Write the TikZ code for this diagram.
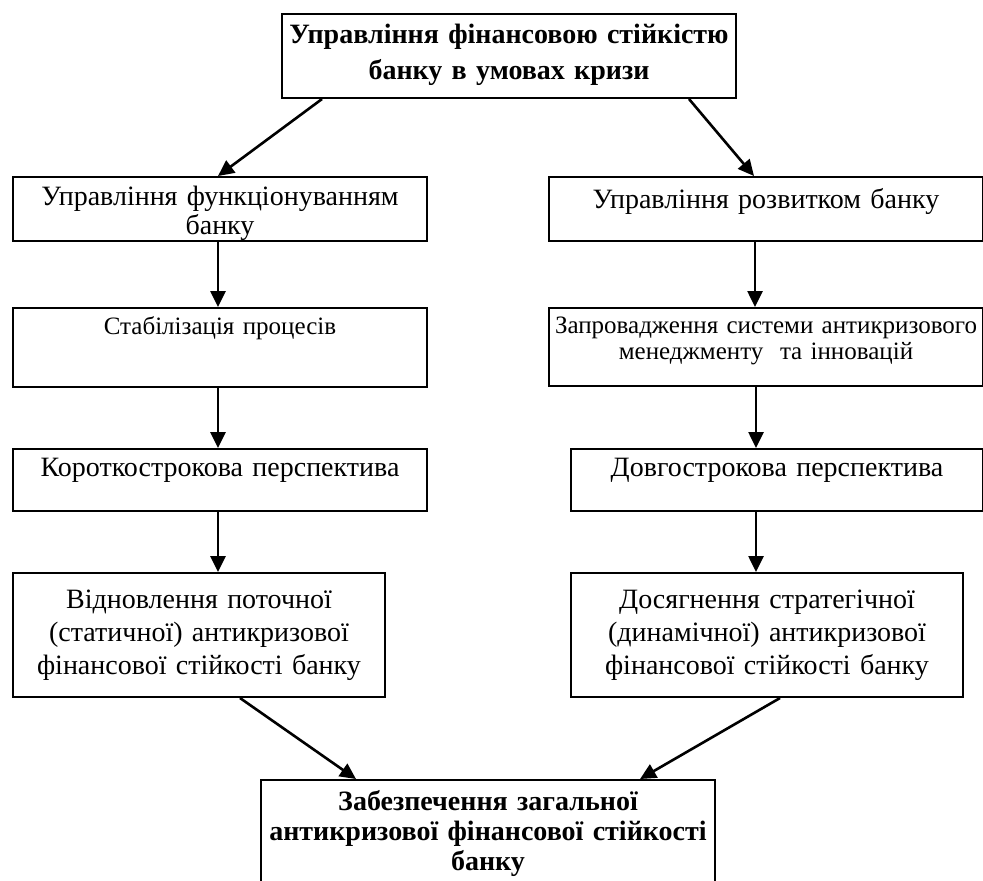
\documentclass[tikz,border=0pt]{standalone}
\usepackage{fontspec}
\setmainfont{Liberation Serif}
\usetikzlibrary{arrows.meta,calc}
\begin{document}
\begin{tikzpicture}[x=.5pt,y=-.5pt,
    box/.style={draw,line width=1pt,inner sep=0pt,align=center,anchor=north west},
    big/.style={font=\fontsize{14}{14.5}\selectfont},
    small/.style={font=\fontsize{12.5}{13}\selectfont},
    arr/.style={line width=1.3pt,-{Triangle[length=8pt,width=7.5pt]}}]
   \useasboundingbox (0,0) rectangle (983,880);
   \clip (0,0) rectangle (983,880);
   % top
   \node[box,text width=227pt,text height=14.5pt,text depth=27.5pt,font=\fontsize{14}{18}\selectfont\bfseries] (top) at (281,13)
      {Управління фінансовою стійкістю\\банку в умовах кризи};
   % left branch
   \node[box,big,text width=207pt,text height=14pt,text depth=18pt] (fun) at (12,176)
      {Управління функціонуванням\\банку};
   \node[box,small,text width=207pt,text height=13pt,text depth=26.5pt] (stab) at (12,307) {Стабілізація процесів};
   \node[box,big,text width=207pt,text height=13.5pt,text depth=17.5pt] (short) at (12,448) {Короткострокова перспектива};
   \node[box,text width=186pt,text height=17.5pt,text depth=44.5pt,font=\fontsize{14}{16.5}\selectfont] (restore) at (12,572)
      {Відновлення поточної\\(статичної) антикризової\\фінансової стійкості банку};
   % right branch
   \node[box,big,text width=217pt,text height=15.5pt,text depth=16.5pt] (dev) at (548,176) {Управління розвитком банку};
   \node[box,small,text width=217pt,text height=12.5pt,text depth=26.5pt] (impl) at (548,307)
      {Запровадження системи антикризового\\менеджменту \ та інновацій};
   \node[box,big,text width=206pt,text height=13.5pt,text depth=17.5pt] (long) at (570,448) {Довгострокова перспектива};
   \node[box,text width=196pt,text height=17.5pt,text depth=44.5pt,font=\fontsize{14}{16.5}\selectfont] (reach) at (570,572)
      {Досягнення стратегічної\\(динамічної) антикризової\\фінансової стійкості банку};
   % bottom
   \node[box,text width=227pt,text height=15pt,text depth=54pt,font=\fontsize{14}{15}\selectfont\bfseries] (final) at (260,779)
      {Забезпечення загальної\\антикризової фінансової стійкості\\банку};
   % arrows
   \draw[arr] ($(top.south west)+(41,0)$) -- ($(fun.north)+(-2,0)$);
   \draw[arr] ($(top.south east)+(-48,0)$) -- ($(dev.north)+(-12,0)$);
   \draw[arr] (fun.south -| 218,0) -- (stab.north -| 218,0);
   \draw[arr] (stab.south -| 218,0) -- (short.north -| 218,0);
   \draw[arr] (short.south -| 218,0) -- (restore.north -| 218,0);
   \draw[arr] (dev.south -| 755,0) -- (impl.north -| 755,0);
   \draw[arr] (impl.south -| 756,0) -- (long.north -| 756,0);
   \draw[arr] (long.south -| 756,0) -- (reach.north -| 756,0);
   \draw[arr] ($(restore.south west)+(228,0)$) -- ($(final.north west)+(96,0)$);
   \draw[arr] ($(reach.south east)+(-184,0)$) -- ($(final.north east)+(-76,0)$);
\end{tikzpicture}
\end{document}
